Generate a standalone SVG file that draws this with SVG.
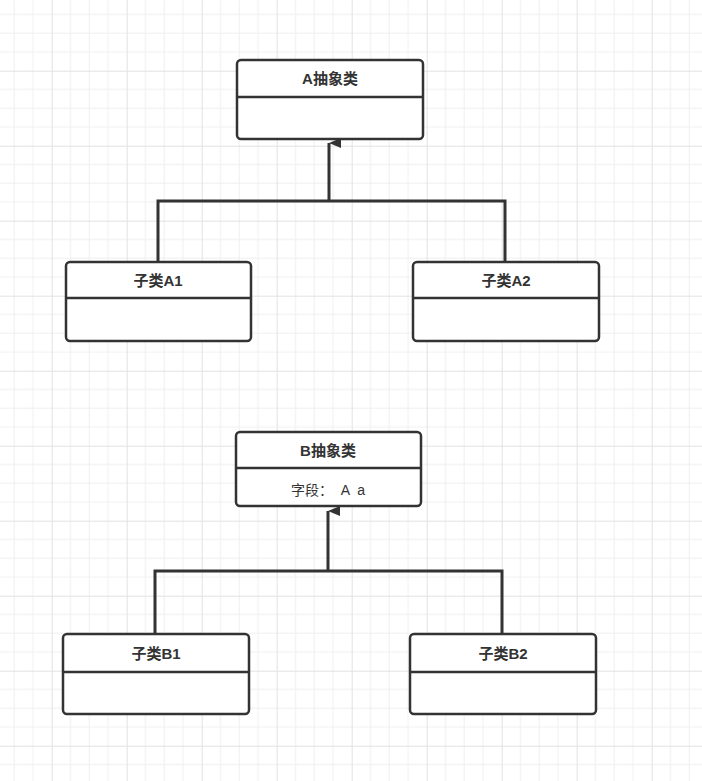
<svg xmlns="http://www.w3.org/2000/svg" width="702" height="781" viewBox="0 0 702 781">
<defs>
<pattern id="g" x="-23.3" y="-4.3" width="75" height="75" patternUnits="userSpaceOnUse">
<path d="M18.75 0V75M37.5 0V75M56.25 0V75M0 18.75H75M0 37.5H75M0 56.25H75" stroke="#efefef" stroke-width="1" fill="none"/>
<path d="M0.5 0V75M0 0.5H75" stroke="#e2e2e2" stroke-width="1" fill="none"/>
</pattern>
<marker id="arr" markerWidth="10" markerHeight="12" refX="5" refY="0" orient="auto" markerUnits="userSpaceOnUse" viewBox="0 0 10 12">
<path d="M5 0L10 12H0Z" fill="#333"/>
</marker>
<style>
.box{fill:#fff;stroke:#333;stroke-width:2.5}
.div{stroke:#333;stroke-width:2.5}
.t{font-family:"Liberation Sans","Noto Sans CJK SC",sans-serif;font-size:15px;font-weight:bold;fill:#333;text-anchor:middle}
.f{font-family:"Liberation Sans","Noto Sans CJK SC",sans-serif;font-size:14px;fill:#333;text-anchor:middle}
.c{stroke:#333;stroke-width:3;fill:none}
</style>
</defs>
<rect width="702" height="781" fill="#fff"/>
<rect width="702" height="781" fill="url(#g)"/>
<g id="connectors">
<path class="c" d="M158 262V201H505V262"/>
<path class="c" d="M329 201V143" marker-end="url(#arr)"/>
<path class="c" d="M155 634V571H502V634"/>
<path class="c" d="M328 571V511" marker-end="url(#arr)"/>
</g>
<g id="A"><rect class="box" x="237" y="60" width="186" height="79" rx="4"/><line class="div" x1="237" y1="97" x2="423" y2="97"/><text class="t" x="330" y="84">A抽象类</text></g>
<g id="A1"><rect class="box" x="66" y="262" width="185" height="79" rx="4"/><line class="div" x1="66" y1="298" x2="251" y2="298"/><text class="t" x="158" y="286">子类A1</text></g>
<g id="A2"><rect class="box" x="413" y="262" width="186" height="79" rx="4"/><line class="div" x1="413" y1="298" x2="599" y2="298"/><text class="t" x="506" y="286">子类A2</text></g>
<g id="B"><rect class="box" x="236" y="432" width="185" height="74" rx="4"/><line class="div" x1="236" y1="468" x2="421" y2="468"/><text class="t" x="328" y="456">B抽象类</text><text class="f" x="328" y="495" xml:space="preserve">字段：  A  a</text></g>
<g id="B1"><rect class="box" x="63" y="634" width="186" height="80" rx="4"/><line class="div" x1="63" y1="672" x2="249" y2="672"/><text class="t" x="156" y="659">子类B1</text></g>
<g id="B2"><rect class="box" x="410" y="634" width="186" height="80" rx="4"/><line class="div" x1="410" y1="672" x2="596" y2="672"/><text class="t" x="503" y="659">子类B2</text></g>
</svg>
